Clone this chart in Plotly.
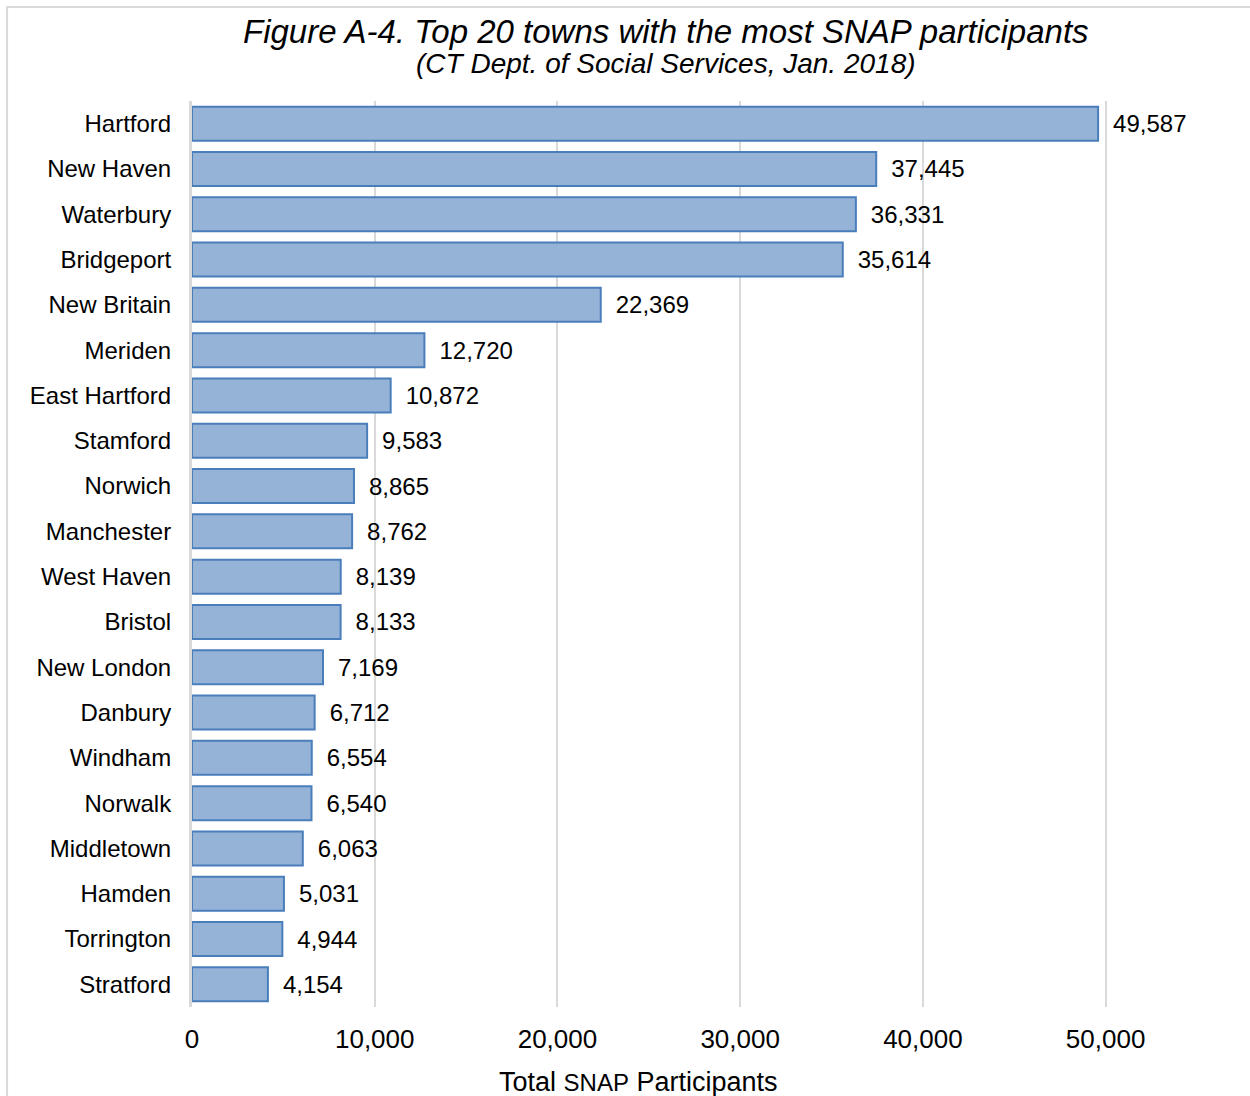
import plotly.graph_objects as go

# SNAP participants by town, January 2018
towns = [
    "Hartford", "New Haven", "Waterbury", "Bridgeport", "New Britain",
    "Meriden", "East Hartford", "Stamford", "Norwich", "Manchester",
    "West Haven", "Bristol", "New London", "Danbury", "Windham",
    "Norwalk", "Middletown", "Hamden", "Torrington", "Stratford",
]
participants = [
    49587, 37445, 36331, 35614, 22369,
    12720, 10872, 9583, 8865, 8762,
    8139, 8133, 7169, 6712, 6554,
    6540, 6063, 5031, 4944, 4154,
]
x_tick_values = [0, 10000, 20000, 30000, 40000, 50000]
x_tick_labels = ["0", "10,000", "20,000", "30,000", "40,000", "50,000"]

W, H = 1250, 1096
L, T, B = 192, 101, 89
px_per_unit = 914 / 50000
x_max = 55000
plot_w = x_max * px_per_unit
R = W - L - plot_w
plot_h = H - T - B

FONT = "Liberation Sans, Arial, sans-serif"


def paper_x(px):
    return (px - L) / plot_w


def paper_y(py):
    return (H - B - py) / plot_h


fig = go.Figure(
    go.Bar(
        x=participants,
        y=towns,
        orientation="h",
        marker=dict(color="#95b3d7", line=dict(color="#4a7ebb", width=2)),
        text=["\u2002" + f"{v:,}" for v in participants],
        textposition="outside",
        textfont=dict(family=FONT, size=24, color="#000000"),
        constraintext="none",
        cliponaxis=False,
        hoverinfo="skip",
    )
)

fig.update_layout(
    width=W,
    height=H,
    margin=dict(l=L, r=R, t=T, b=B, pad=0),
    paper_bgcolor="white",
    plot_bgcolor="white",
    bargap=0.25,
    showlegend=False,
    font=dict(family=FONT, color="#000000"),
    xaxis=dict(
        range=[0, x_max],
        tickvals=x_tick_values,
        ticktext=x_tick_labels,
        tickfont=dict(size=26, color="#000000"),
        showgrid=True,
        gridcolor="#d9d9d9",
        gridwidth=2,
        zeroline=False,
        showline=False,
        ticks="",
        ticklabelstandoff=14,
        fixedrange=True,
    ),
    yaxis=dict(
        categoryorder="array",
        categoryarray=towns,
        autorange="reversed",
        tickfont=dict(size=24, color="#000000"),
        showgrid=False,
        zeroline=False,
        showline=True,
        linecolor="#d9d9d9",
        linewidth=3,
        ticks="",
        ticklabelstandoff=13,
        fixedrange=True,
    ),
    shapes=[
        dict(
            type="rect",
            xref="paper",
            yref="paper",
            x0=paper_x(7),
            x1=paper_x(W + 10),
            y0=paper_y(H + 10),
            y1=paper_y(7),
            line=dict(color="#d9d9d9", width=2),
            fillcolor="rgba(0,0,0,0)",
            layer="below",
        )
    ],
    annotations=[
        dict(
            text="<i>Figure A-4. Top 20 towns with the most SNAP participants</i>",
            xref="paper",
            yref="paper",
            x=paper_x(666),
            y=paper_y(31),
            xanchor="center",
            yanchor="middle",
            showarrow=False,
            font=dict(size=33, color="#000000"),
        ),
        dict(
            text="<i>(CT Dept. of Social Services, Jan. 2018)</i>",
            xref="paper",
            yref="paper",
            x=paper_x(666),
            y=paper_y(64),
            xanchor="center",
            yanchor="middle",
            showarrow=False,
            font=dict(size=28, color="#000000"),
        ),
        dict(
            text="Total <span style='font-size:24px'>SNAP</span> Participants",
            xref="paper",
            yref="paper",
            x=paper_x(638),
            y=paper_y(1082),
            xanchor="center",
            yanchor="middle",
            showarrow=False,
            font=dict(size=27, color="#000000"),
        ),
    ],
)

fig.write_html("out.html")
